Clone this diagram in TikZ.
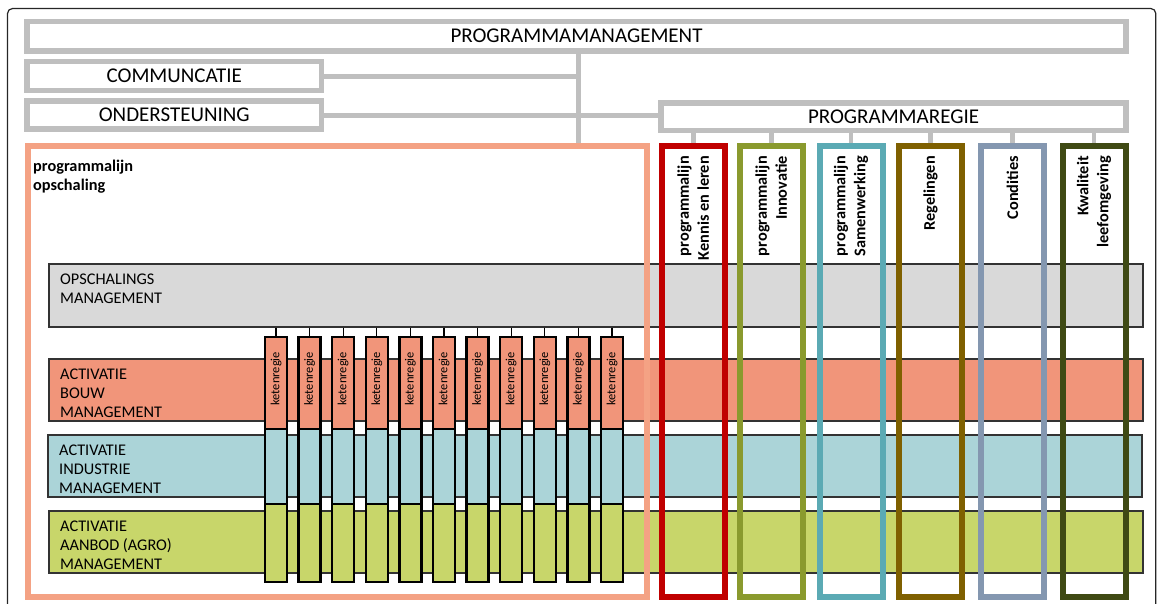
\documentclass[tikz,border=0pt]{standalone}
\usepackage{fontspec}
\setmainfont{Carlito}
\usepackage{tikz}

\definecolor{boxgray}{RGB}{191,191,191}
\definecolor{opsgrijs}{RGB}{217,217,217}
\definecolor{opsrand}{RGB}{244,162,132}
\definecolor{bouw}{RGB}{241,149,122}
\definecolor{industrie}{RGB}{171,212,216}
\definecolor{agro}{RGB}{200,214,106}
\definecolor{rood}{RGB}{192,0,0}
\definecolor{groen}{RGB}{138,154,46}
\definecolor{turkoois}{RGB}{91,170,180}
\definecolor{bruin}{RGB}{127,96,0}
\definecolor{blauwgrijs}{RGB}{132,151,176}
\definecolor{donkergroen}{RGB}{63,74,20}

\begin{document}
\begin{tikzpicture}[x=1pt,y=-1pt]
    % `mgmt' is used for the grey boxes at the top.
    % `band' is used for the coloured rows, `bandtext' for their labels.
    % `lijn' is used for the open frames of the programme lines.
    % `keten' is used for the small ketenregie bars.
    \tikzstyle{mgmt} = [draw=boxgray,line width=5.5pt,inner sep=0pt,font=\fontsize{21}{25}\selectfont]
    \tikzstyle{band} = [draw=black!80,line width=1.2pt,inner sep=0pt,minimum width=1094pt]
    \tikzstyle{bandtext} = [anchor=west,align=left,inner sep=0pt,font=\fontsize{16.3}{19}\selectfont]
    \tikzstyle{lijn} = [draw,line width=6pt,inner sep=0pt,minimum width=63pt,minimum height=451pt]
    \tikzstyle{lijntext} = [rotate=90,anchor=east,align=right,inner sep=0pt,font=\bfseries\fontsize{16.3}{20}\selectfont]
    \tikzstyle{keten} = [draw=black,line width=2.5pt,inner sep=0pt,minimum width=22pt]
    \tikzstyle{link} = [boxgray,line width=5pt]
    %
    \useasboundingbox (0,0) rectangle (1157,603);
    \draw[rounded corners=5pt,line width=1.2pt,black!85] (7.5,8.5) rectangle (1155.8,640);

    % Management boxes.
    \node[mgmt,minimum width=1099pt,minimum height=29.5pt] (pm) at (576.5,36.25) {PROGRAMMAMANAGEMENT};
    \node[mgmt,minimum width=294.5pt,minimum height=29pt] (comm) at (174.25,76) {COMMUNCATIE};
    \node[mgmt,minimum width=294.5pt,minimum height=28pt] (onder) at (174.25,115) {ONDERSTEUNING};
    \node[mgmt,minimum width=465pt,minimum height=27.5pt] (regie) at (893.5,116.75) {PROGRAMMAREGIE};
    \coordinate (spine) at (578,0);

    % Rows.
    \node[band,fill=opsgrijs,minimum height=63pt] (ops) at (596,295.5) {};
    \node[band,fill=bouw,minimum height=62pt] (bouwrij) at (596,390) {};
    \node[band,fill=industrie,minimum height=62pt] (indrij) at (595,466) {};
    \node[band,fill=agro,minimum height=62pt] (agrorij) at (596,542) {};
    \node[bandtext] (opsT) at (60,288.5) {OPSCHALINGS\\MANAGEMENT};
    \node[bandtext] (bouwT) at (60,393) {ACTIVATIE\\BOUW\\MANAGEMENT};
    \node[bandtext] (indT) at (59,469) {ACTIVATIE\\INDUSTRIE\\MANAGEMENT};
    \node[bandtext] (agroT) at (60,545) {ACTIVATIE\\AANBOD (AGRO)\\MANAGEMENT};

    % Programme line frames.
    \node[draw=opsrand,line width=5.5pt,inner sep=0pt,minimum width=619pt,minimum height=451pt] (opsch) at (337.5,371.5) {};
    \node[anchor=west,align=left,inner sep=0pt,font=\bfseries\fontsize{16.3}{19.5}\selectfont] (opschT) at (33,176.5) {programmalijn\\opschaling};
    \foreach \x/\c/\n in {693.25/rood/1,771.25/groen/2,851/turkoois/3,930.5/bruin/4,1012.5/blauwgrijs/5,1094/donkergroen/6} {
      \node[lijn,draw=\c] (lijn\n) at (\x,371.5) {};
      \draw[link,line width=4.5pt] (regie.south -| lijn\n.north) -- (lijn\n.north);
    }
    \node[lijntext] (l1) at ([yshift=-13pt]lijn1.north) {programmalijn\\Kennis en leren};
    \node[lijntext] (l2) at ([yshift=-13pt]lijn2.north) {programmalijn\\Innovatie};
    \node[lijntext] (l3) at ([yshift=-13pt]lijn3.north) {programmalijn\\Samenwerking};
    \node[lijntext] (l4) at ([yshift=-13pt]lijn4.north) {Regelingen};
    \node[lijntext] (l5) at ([yshift=-13pt]lijn5.north) {Condities};
    \node[lijntext] (l6) at ([yshift=-13pt]lijn6.north) {Kwaliteit\\leefomgeving};

    % Ketenregie bars.
    \foreach \i in {0,...,10} {
      \node[keten,fill=bouw,minimum height=92pt] (kb\i) at (276+33.6*\i,383) {};
      \node[keten,fill=industrie,minimum height=75pt] (ki\i) at (276+33.6*\i,466.5) {};
      \node[keten,fill=agro,minimum height=78pt] (ka\i) at (276+33.6*\i,543) {};
      \draw[black,line width=1.2pt] (ops.south -| kb\i.north) -- (kb\i.north);
      \node[rotate=90,anchor=east,inner sep=0pt,font=\fontsize{12.5}{14}\selectfont] (kt\i) at ([yshift=-16pt]kb\i.north) {ketenregie};
    }

    % Grey lines.
    \draw[link] (pm.south -| spine) -- (opsch.north -| spine);
    \draw[link] (comm.east) -- (comm.east -| spine);
    \draw[link] (onder.east) -- (onder.east -| regie.west);
\end{tikzpicture}
\end{document}
